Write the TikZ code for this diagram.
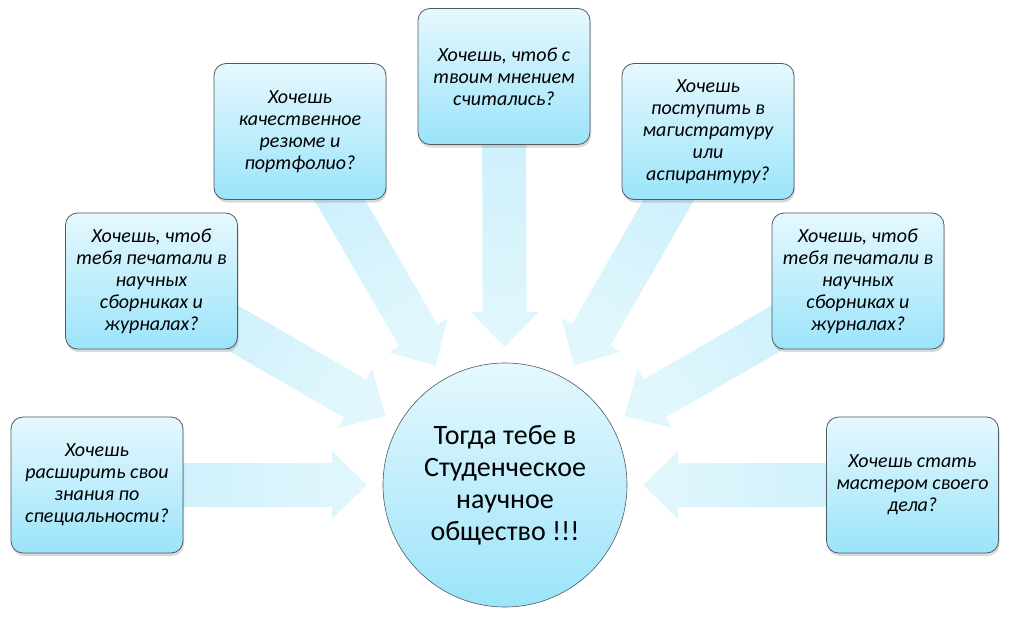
\documentclass[tikz,border=0pt]{standalone}
\usepackage{fontspec}
\setmainfont{Carlito}
\usetikzlibrary{calc,shadows,backgrounds}
\definecolor{boxtop}{RGB}{230,248,254}
\definecolor{boxbottom}{RGB}{155,228,250}
\definecolor{arrowback}{RGB}{200,238,251}
\definecolor{arrowtip}{RGB}{226,247,253}
\definecolor{rimgray}{RGB}{80,90,95}
\tikzset{
% Two node styles: the question boxes and the central circle
question box/.style={rectangle,rounded corners=12pt,draw=rimgray,line width=0.8pt,
  top color=boxtop,bottom color=boxbottom,minimum width=172pt,minimum height=136pt,
  inner sep=0pt,align=center,font=\itshape\fontsize{20}{22}\selectfont,
  drop shadow={shadow xshift=1pt,shadow yshift=-3pt,opacity=0.3}},
society circle/.style={circle,draw=rimgray,line width=0.6pt,top color=boxtop,
  bottom color=boxbottom,minimum size=244pt,inner sep=0pt,align=center,
  font=\fontsize{28}{32}\selectfont},
% Wide block arrow from a box to a tip coordinate
fat arrow/.style={top color=arrowback,bottom color=arrowtip,to path={
  let \p1=($(\tikztotarget)!35pt!(\tikztostart)$) in
  ($(\tikztostart)!22pt!90:(\tikztotarget)$) -- ($(\p1)!22pt!90:(\tikztotarget)$)
  -- ($(\p1)!34pt!90:(\tikztotarget)$) -- (\tikztotarget)
  -- ($(\p1)!34pt!-90:(\tikztotarget)$) -- ($(\p1)!22pt!-90:(\tikztotarget)$)
  -- ($(\tikztostart)!22pt!-90:(\tikztotarget)$) -- cycle}}
}
\begin{document}
\begin{tikzpicture}[x=1pt,y=-1pt]
\useasboundingbox (0,0) rectangle (1010,621);
% The central circle
\node(soc)[society circle] at (505,485) {Тогда тебе в\\Студенческое\\научное\\общество !!!};
% The question boxes
\node(b1)[question box] at (97,485) {Хочешь\\расширить свои\\знания по\\специальности?};
\node(b2)[question box] at (151.5,281) {Хочешь, чтоб\\тебя печатали в\\научных\\сборниках и\\журналах?};
\node(b3)[question box] at (300,131.5) {Хочешь\\качественное\\резюме и\\портфолио?};
\node(b4)[question box] at (504,76.5) {Хочешь, чтоб с\\твоим мнением\\считались?};
\node(b5)[question box] at (708,131.5) {Хочешь\\поступить в\\магистратуру\\или\\аспирантуру?};
\node(b6)[question box] at (858,281) {Хочешь, чтоб\\тебя печатали в\\научных\\сборниках и\\журналах?};
\node(b7)[question box] at (912.5,485) {Хочешь стать\\мастером своего\\дела?};
% Arrow tips stop short of the circle
\foreach \b in {1,...,7}
  \coordinate (t\b) at ($(soc)!138pt!(b\b)$);
% The arrows, behind everything
\begin{scope}[on background layer]
\foreach \b/\a in {1/90,2/60,3/30,4/0,5/-30,6/-60,7/270}
  \shade[fat arrow,shading angle=\a] (b\b) to (t\b);
\end{scope}
\end{tikzpicture}
\end{document}
